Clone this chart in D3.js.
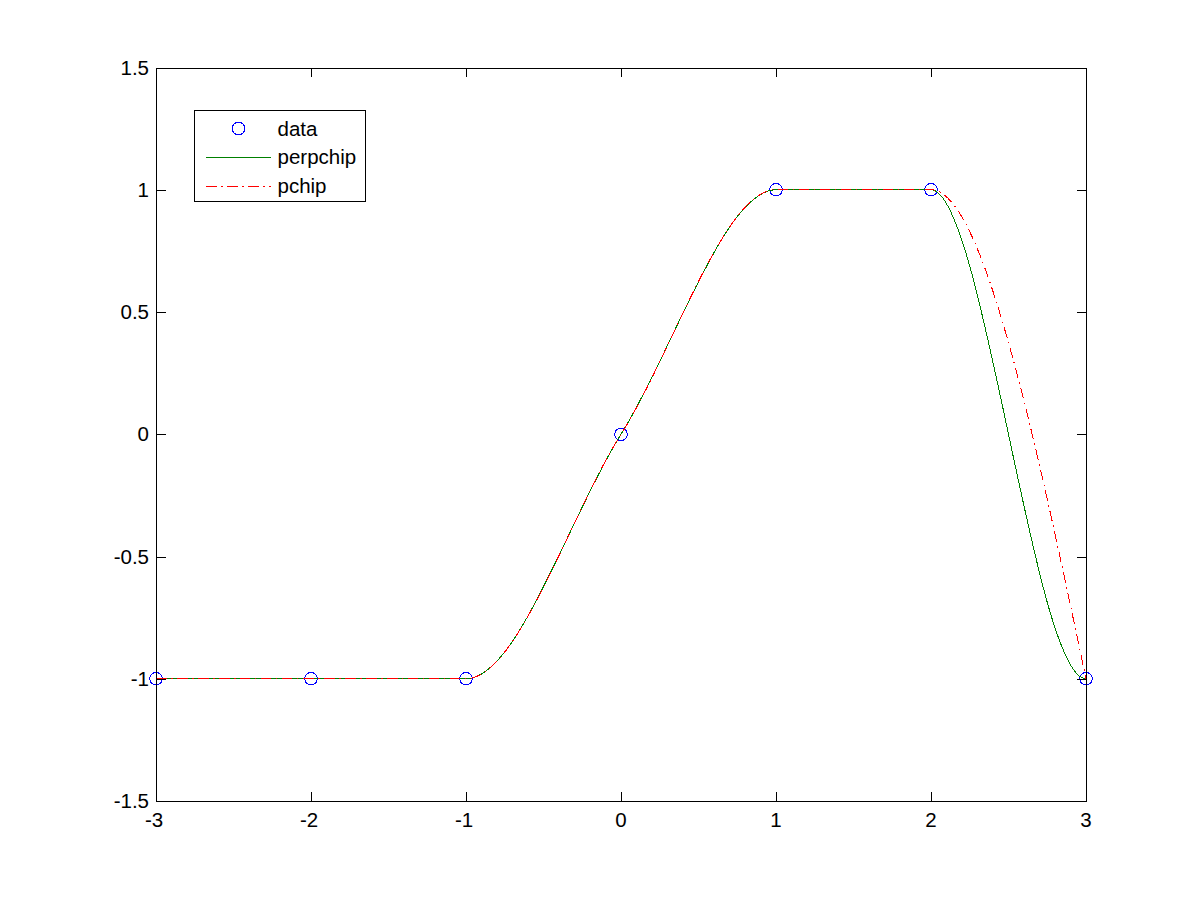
<!DOCTYPE html>
<html>
<head>
<meta charset="utf-8">
<script src="https://cdn.jsdelivr.net/npm/d3@7"></script>
<style>
  html, body { margin: 0; padding: 0; background: #fff; }
  svg text { font-family: "Liberation Sans", Arial, Helvetica, sans-serif; }
</style>
</head>
<body>
<svg id="chart" width="1200" height="900"></svg>
<script>
// ---- data ----
const xData = [-3, -2, -1, 0, 1, 2, 3];
const yData = [-1, -1, -1, 0, 1, 1, -1];
const xTicks = [-3, -2, -1, 0, 1, 2, 3];
const yTicks = [-1.5, -1, -0.5, 0, 0.5, 1, 1.5];
const seriesNames = ["data", "perpchip", "pchip"];
const period = 6;

(function () {
// ---- layout ----
const W = 1200, H = 900;
const pL = 156, pR = 1086, pT = 67.5, pB = 801;

const svg = d3.select("#chart");
svg.append("rect").attr("width", W).attr("height", H).attr("fill", "#fff");

const x = d3.scaleLinear().domain([-3, 3]).range([pL, pR]);
const y = d3.scaleLinear().domain([-1.5, 1.5]).range([pB, pT]);

svg.append("defs").append("clipPath").attr("id", "plotclip")
  .append("rect").attr("x", pL).attr("y", pT - 10)
  .attr("width", pR - pL).attr("height", pB - pT + 20);

const pts = xData.map((d, i) => ({ x: d, y: yData[i] }));
// periodic version: wrap one point from the start of the period
const ptsPeriodic = pts.concat([{ x: xData[1] + period, y: yData[1] }]);

const line = d3.line().x(d => x(d.x)).y(d => y(d.y)).curve(d3.curveMonotoneX);

const plot = svg.append("g").attr("shape-rendering", "crispEdges");

// data markers
plot.selectAll("circle.data").data(pts).enter().append("circle")
  .attr("class", "data")
  .attr("cx", d => x(d.x)).attr("cy", d => y(d.y)).attr("r", 6.3)
  .attr("fill", "none").attr("stroke", "#0000ff").attr("stroke-width", 1);

// perpchip
plot.append("path").datum(ptsPeriodic)
  .attr("clip-path", "url(#plotclip)")
  .attr("d", line).attr("fill", "none")
  .attr("stroke", "#008000").attr("stroke-width", 1);

// pchip
plot.append("path").datum(pts)
  .attr("d", line).attr("fill", "none")
  .attr("stroke", "#ff0000").attr("stroke-width", 1)
  .attr("stroke-dasharray", "10.5,4.5,1.5,4.5");

// ---- axes box ----
const axes = svg.append("g").attr("shape-rendering", "crispEdges");
axes.append("rect").attr("x", pL + 0.5).attr("y", Math.round(pT) + 0.5)
  .attr("width", pR - pL - 0.5).attr("height", pB - Math.round(pT) - 0.5)
  .attr("fill", "none").attr("stroke", "#000").attr("stroke-width", 1);

const tl = 9.5;
xTicks.forEach(t => {
  const px = Math.round(x(t)) + 0.5;
  axes.append("line").attr("x1", px).attr("x2", px).attr("y1", pB).attr("y2", pB - tl)
    .attr("stroke", "#000");
  axes.append("line").attr("x1", px).attr("x2", px).attr("y1", pT).attr("y2", pT + tl)
    .attr("stroke", "#000");
});
yTicks.forEach(t => {
  const py = Math.round(y(t)) + 0.5;
  axes.append("line").attr("x1", pL).attr("x2", pL + tl).attr("y1", py).attr("y2", py)
    .attr("stroke", "#000");
  axes.append("line").attr("x1", pR).attr("x2", pR - tl).attr("y1", py).attr("y2", py)
    .attr("stroke", "#000");
});

const fmt = d => String(d);
svg.append("g").selectAll("text").data(xTicks).enter().append("text")
  .attr("x", d => x(d) - (d < 0 ? 2 : 0)).attr("y", pB + 26)
  .attr("text-anchor", "middle").attr("font-size", 20.5).attr("fill", "#000")
  .text(fmt);
svg.append("g").selectAll("text").data(yTicks).enter().append("text")
  .attr("x", pL - 7).attr("y", d => y(d) + 7)
  .attr("text-anchor", "end").attr("font-size", 20.5).attr("fill", "#000")
  .text(fmt);

// ---- legend ----
const lg = svg.append("g");
lg.append("rect").attr("x", 194.5).attr("y", 110.5).attr("width", 171).attr("height", 91)
  .attr("fill", "#fff").attr("stroke", "#000").attr("stroke-width", 1)
  .attr("shape-rendering", "crispEdges");
const rowY = [128.5, 157, 186];
lg.append("circle").attr("cx", 238.5).attr("cy", rowY[0]).attr("r", 6.3)
  .attr("fill", "none").attr("stroke", "#0000ff").attr("stroke-width", 1)
  .attr("shape-rendering", "crispEdges");
lg.append("line").attr("x1", 206).attr("x2", 271).attr("y1", rowY[1] + 0.5).attr("y2", rowY[1] + 0.5)
  .attr("stroke", "#008000").attr("stroke-width", 1).attr("shape-rendering", "crispEdges");
lg.append("line").attr("x1", 206).attr("x2", 271).attr("y1", rowY[2] + 0.5).attr("y2", rowY[2] + 0.5)
  .attr("stroke", "#ff0000").attr("stroke-width", 1).attr("shape-rendering", "crispEdges")
  .attr("stroke-dasharray", "10.5,4.5,1.5,4.5");
lg.selectAll("text.lt").data(seriesNames).enter().append("text")
  .attr("class", "lt")
  .attr("x", 277.5).attr("y", (d, i) => rowY[i] + 7)
  .attr("font-size", 20.5).attr("fill", "#000").text(d => d);
})();
</script>
</body>
</html>
